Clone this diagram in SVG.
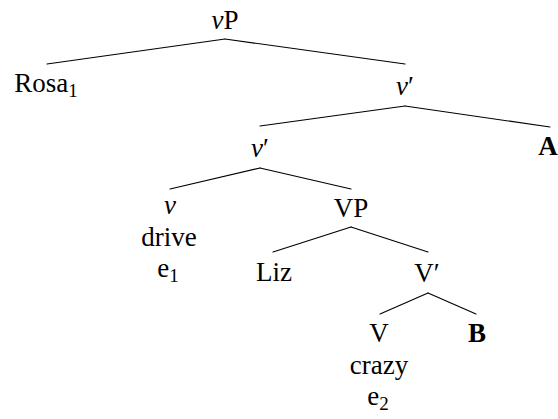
<svg xmlns="http://www.w3.org/2000/svg" width="558" height="419" viewBox="0 0 558 419">
<style>
text{font-family:"Liberation Serif","DejaVu Serif",serif;font-size:27px;fill:#000;text-anchor:middle}
.it{font-style:italic}
.b{font-weight:bold}
.sub{font-size:19px}
#edges line{stroke:#000;stroke-width:1.15;stroke-linecap:round}
</style>
<rect width="558" height="419" fill="#fff"/>
<g id="edges">
<line x1="225" y1="39" x2="47" y2="64"/>
<line x1="225" y1="39" x2="405" y2="64"/>
<line x1="405" y1="106" x2="260" y2="126"/>
<line x1="405" y1="106" x2="550" y2="127"/>
<line x1="260" y1="168" x2="170" y2="189"/>
<line x1="260" y1="168" x2="351" y2="189"/>
<line x1="351" y1="227" x2="273" y2="252"/>
<line x1="351" y1="227" x2="428" y2="252"/>
<line x1="428" y1="293" x2="380" y2="314"/>
<line x1="428" y1="293" x2="476" y2="314"/>
</g>
<g id="vP"><text x="225" y="29"><tspan class="it">v</tspan>P</text></g>
<g id="Rosa"><text x="46" y="92">Rosa<tspan class="sub" dy="5">1</tspan></text></g>
<g id="vbar1"><text x="405" y="95"><tspan class="it">v</tspan>′</text></g>
<g id="A"><text class="b" x="548" y="155">A</text></g>
<g id="vbar2"><text x="260" y="157"><tspan class="it">v</tspan>′</text></g>
<g id="v">
<text class="it" x="170" y="214">v</text>
<text x="169" y="246">drive</text>
<text x="168" y="277">e<tspan class="sub" dy="5">1</tspan></text>
</g>
<g id="VP"><text x="351" y="217">VP</text></g>
<g id="Liz"><text x="274" y="281">Liz</text></g>
<g id="Vbar"><text x="427" y="282">V′</text></g>
<g id="V">
<text x="379" y="342">V</text>
<text x="379" y="374">crazy</text>
<text x="378" y="405">e<tspan class="sub" dy="5">2</tspan></text>
</g>
<g id="B"><text class="b" x="477" y="342">B</text></g>
</svg>
